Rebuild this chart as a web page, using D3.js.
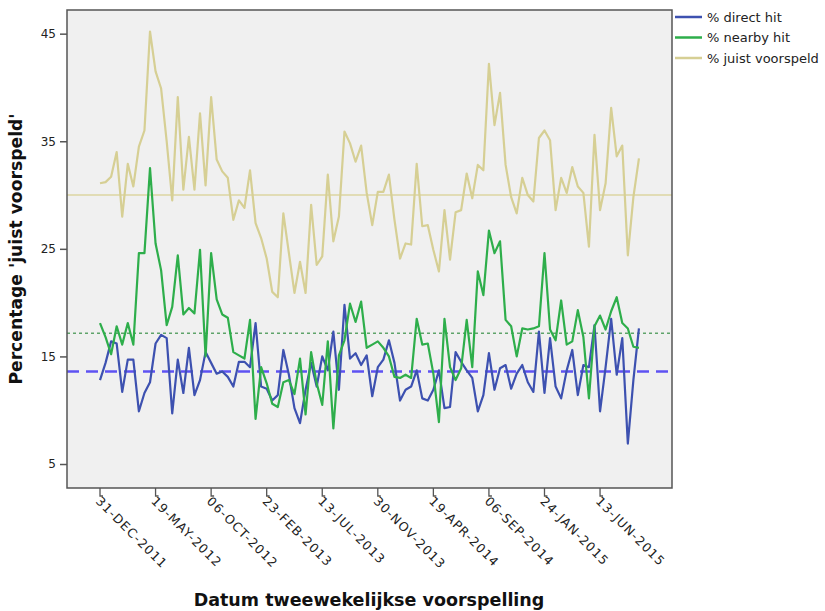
<!DOCTYPE html>
<html>
<head>
<meta charset="utf-8">
<script src="https://cdn.jsdelivr.net/npm/d3@7"></script>
<style>
  html, body { margin: 0; padding: 0; background: #ffffff; }
  svg { display: block; font-family: "DejaVu Sans", Verdana, sans-serif; }
</style>
</head>
<body>
<svg id="chart" width="825" height="611"></svg>
<script>
// ---- data ----
const seriesNames = ["% direct hit", "% nearby hit", "% juist voorspeld"];
const directHit = [12.8,14.4,16.4,16.2,11.7,14.7,14.7,9.9,11.6,12.6,16.2,17.0,16.7,9.7,14.7,11.6,15.8,11.4,12.8,15.4,
  14.4,13.4,13.6,13.1,12.2,14.5,14.5,14.0,18.1,12.2,12.0,10.9,11.4,15.6,13.3,10.2,8.8,11.9,14.4,12.2,
  15.0,13.7,17.3,11.9,19.8,14.8,15.3,14.2,15.1,11.3,14.0,14.7,16.5,14.4,10.9,11.9,12.2,13.7,11.1,10.9,
  11.9,13.7,10.2,10.3,15.4,14.5,13.7,13.0,9.9,11.4,15.3,11.9,13.9,14.2,12.0,13.4,14.2,12.6,11.7,17.3,
  11.6,16.7,12.2,11.1,13.7,15.6,11.4,14.2,14.0,17.9,9.9,14.0,18.5,13.3,16.7,6.9,12.8,17.6];
const nearbyHit = [18.1,16.8,15.2,17.8,16.1,18.1,16.1,24.6,24.6,32.5,25.5,23.0,17.9,19.6,24.4,18.9,19.5,19.0,24.9,15.0,
  24.6,20.3,18.9,18.6,15.4,15.1,14.8,18.4,9.2,14.0,12.5,10.6,10.3,12.6,12.8,11.5,14.8,9.6,15.4,12.5,
  10.5,16.4,8.3,15.1,16.5,19.9,18.2,20.1,15.8,16.1,16.4,15.8,15.0,13.1,13.0,13.3,13.0,18.5,16.1,16.2,
  13.4,8.9,18.5,14.0,12.8,13.9,18.4,14.0,22.9,20.7,26.7,24.6,25.7,18.4,17.8,15.0,17.6,17.5,17.6,17.8,
  24.6,17.5,16.5,20.2,16.1,16.4,19.3,16.8,11.1,17.8,18.8,17.5,19.2,20.5,18.1,17.6,15.9,15.8];
const juistVoorspeld = [31.1,31.2,31.7,34.0,28.0,32.9,30.8,34.5,36.0,45.2,41.5,39.9,35.0,29.5,39.1,30.5,35.4,30.5,37.6,30.9,
  39.1,33.3,32.2,31.6,27.7,29.5,28.8,32.3,27.4,26.0,24.1,21.0,20.5,28.3,24.6,20.9,23.8,20.9,29.1,23.5,
  24.3,31.9,25.7,28.0,35.9,34.8,33.1,34.6,30.2,27.2,30.3,30.3,31.9,27.7,24.1,25.5,25.4,32.9,27.1,27.2,
  24.9,22.9,28.6,24.0,28.4,28.6,32.0,29.7,32.8,32.3,42.2,36.5,39.5,32.8,29.8,28.3,31.6,30.0,29.4,35.3,
  36.0,35.1,28.6,31.6,30.2,32.6,30.8,30.2,25.2,35.6,28.6,31.1,38.1,33.6,34.6,24.4,29.8,33.4];
const referenceValues = [13.6, 17.15, 30.0];           // horizontal reference lines
const yTickValues = [5, 15, 25, 35, 45];
const xTickIndex = [0, 10, 20, 30, 40, 50, 60, 70, 80, 90];
const xTickLabels = ["31-DEC-2011","19-MAY-2012","06-OCT-2012","23-FEB-2013","13-JUL-2013",
  "30-NOV-2013","19-APR-2014","06-SEP-2014","24-JAN-2015","13-JUN-2015"];
const yTitle = "Percentage 'juist voorspeld'";
const xTitle = "Datum tweewekelijkse voorspelling";

// ---- styles ----
const colors = ["#3d51b0", "#2eae4b", "#d6cf94"];
const refColors = ["#5e52f2", "#5fa36a", "#dcd6a2"];
const refDash = ["12,7", "3,3", null];
const refWidth = [2.5, 1.5, 1.5];

const plot = { left: 67, right: 672, top: 10, bottom: 488 };
const svg = d3.select("#chart");

const x = d3.scaleLinear().domain([-5.94, 102.95]).range([plot.left, plot.right]);
const y = d3.scaleLinear().domain([2.77, 47.2]).range([plot.bottom, plot.top]);

// background
svg.append("rect")
  .attr("x", plot.left).attr("y", plot.top)
  .attr("width", plot.right - plot.left).attr("height", plot.bottom - plot.top)
  .attr("fill", "#f0f0f0");

// reference lines
referenceValues.forEach((v, k) => {
  svg.append("line")
    .attr("x1", plot.left).attr("x2", plot.right)
    .attr("y1", y(v)).attr("y2", y(v))
    .attr("stroke", refColors[k]).attr("stroke-width", refWidth[k])
    .attr("stroke-dasharray", refDash[k]);
});

// series lines
const allSeries = [directHit, nearbyHit, juistVoorspeld];
const line = d3.line().x((d, i) => x(i)).y(d => y(d));
[2, 0, 1].forEach(k => {
  svg.append("path")
    .datum(allSeries[k])
    .attr("d", line)
    .attr("fill", "none")
    .attr("stroke", colors[k])
    .attr("stroke-width", 2.2)
    .attr("stroke-linejoin", "round");
});

// frame
svg.append("rect")
  .attr("x", plot.left).attr("y", plot.top)
  .attr("width", plot.right - plot.left).attr("height", plot.bottom - plot.top)
  .attr("fill", "none").attr("stroke", "#555").attr("stroke-width", 1.5);

// y axis
const yAxis = d3.axisLeft(y).tickValues(yTickValues).tickSize(7).tickPadding(4);
const gy = svg.append("g").attr("transform", `translate(${plot.left},0)`).call(yAxis);
gy.select(".domain").remove();
gy.selectAll(".tick line").attr("stroke", "#555").attr("stroke-width", 1.5);
gy.selectAll(".tick text").attr("font-size", 12).attr("fill", "#222")
  .attr("font-family", "DejaVu Sans, Verdana, sans-serif");

// x axis ticks with SPSS-style hook
const gx = svg.append("g");
xTickIndex.forEach((idx, k) => {
  const tx = x(idx);
  gx.append("path")
    .attr("d", `M${tx},${plot.bottom} V${plot.bottom + 8} h3`)
    .attr("fill", "none").attr("stroke", "#555").attr("stroke-width", 1.3);
  gx.append("text")
    .attr("transform", `translate(${tx - 5},${plot.bottom + 14}) rotate(45)`)
    .attr("font-size", 12.5).attr("letter-spacing", 1.1).attr("fill", "#222")
    .text(xTickLabels[k]);
});

// axis titles
svg.append("text")
  .attr("transform", `translate(22,${(plot.top + plot.bottom) / 2}) rotate(-90)`)
  .attr("text-anchor", "middle")
  .attr("font-size", 17.2).attr("font-weight", "bold").attr("fill", "#111")
  .text(yTitle);
svg.append("text")
  .attr("x", 369).attr("y", 606)
  .attr("text-anchor", "middle")
  .attr("font-size", 17.5).attr("font-weight", "bold").attr("fill", "#111")
  .text(xTitle);

// legend
const legendY = [17, 37.5, 58];
seriesNames.forEach((name, k) => {
  svg.append("line")
    .attr("x1", 675).attr("x2", 702)
    .attr("y1", legendY[k]).attr("y2", legendY[k])
    .attr("stroke", colors[k]).attr("stroke-width", 2.5);
  svg.append("text")
    .attr("x", 707).attr("y", legendY[k])
    .attr("dy", "0.35em")
    .attr("font-size", 13).attr("fill", "#222")
    .text(name);
});
</script>
</body>
</html>
